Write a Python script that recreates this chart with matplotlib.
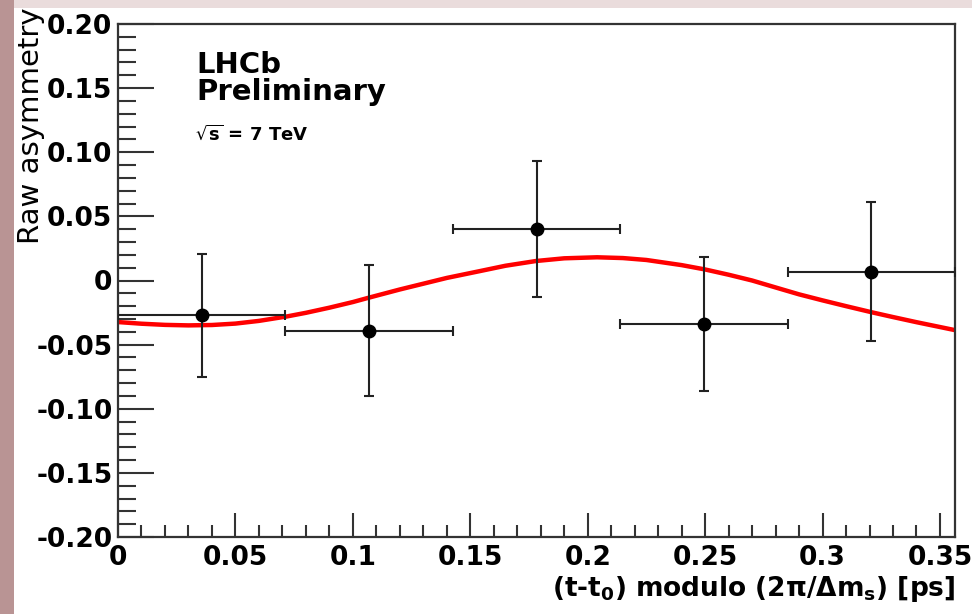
import matplotlib
matplotlib.use("Agg")
import matplotlib.pyplot as plt
from matplotlib.patches import Rectangle
from matplotlib.ticker import FixedLocator, MultipleLocator

# ---- data ----
bin_centers = [0.0356, 0.1069, 0.1782, 0.2495, 0.3208]
bin_halfwidth = [0.0356, 0.0356, 0.0356, 0.0356, 0.0356]
asym = [-0.027, -0.039, 0.040, -0.034, 0.007]
asym_err = [0.048, 0.051, 0.053, 0.052, 0.054]

fit_x = [0.0, 0.01, 0.02, 0.03, 0.04, 0.05, 0.06, 0.072, 0.08, 0.09, 0.10, 0.107,
         0.12, 0.13, 0.14, 0.154, 0.165, 0.178, 0.19, 0.204, 0.215, 0.225, 0.24,
         0.25, 0.26, 0.27, 0.282, 0.29, 0.30, 0.31, 0.321, 0.33, 0.34, 0.3564]
fit_y = [-0.0324, -0.0337, -0.0346, -0.0350, -0.0347, -0.0336, -0.0315, -0.0280,
         -0.0252, -0.0212, -0.0168, -0.0133, -0.0070, -0.0025, 0.0020, 0.0073,
         0.0115, 0.0152, 0.0173, 0.0181, 0.0175, 0.0160, 0.0120, 0.0086, 0.0045,
         0.0000, -0.0065, -0.0108, -0.0155, -0.0200, -0.0248, -0.0285, -0.0325,
         -0.0387]

xticks = [0, 0.05, 0.1, 0.15, 0.2, 0.25, 0.3, 0.35]
xtick_labels = ["0", "0.05", "0.1", "0.15", "0.2", "0.25", "0.3", "0.35"]
yticks = [-0.20, -0.15, -0.10, -0.05, 0, 0.05, 0.10, 0.15, 0.20]
ytick_labels = ["-0.20", "-0.15", "-0.10", "-0.05", "0", "0.05", "0.10", "0.15", "0.20"]

plt.rcParams['font.family'] = ['DejaVu Sans']
plt.rcParams['mathtext.fontset'] = 'dejavusans'

fig = plt.figure(figsize=(9.72, 6.14), dpi=100, facecolor='white')

# background strips (slide frame)
fig.patches.append(Rectangle((0, 0), 14/972, 1, transform=fig.transFigure,
                             facecolor='#b99494', edgecolor='none', zorder=-10))
fig.patches.append(Rectangle((14/972, 1 - 8/614), 1, 8/614, transform=fig.transFigure,
                             facecolor='#eadcdc', edgecolor='none', zorder=-10))

ax = fig.add_axes([118/972, (614-537)/614, (955-118)/972, (537-24)/614])
ax.set_xlim(0, 0.3564)
ax.set_ylim(-0.20, 0.20)

ax.plot(fit_x, fit_y, color='#ff0000', lw=3.2, zorder=2, solid_joinstyle='round')
ax.errorbar(bin_centers, asym, xerr=bin_halfwidth, yerr=asym_err, fmt='o',
            color='black', ecolor='#222222', elinewidth=1.5, capsize=3.5, capthick=1.5,
            markersize=9, zorder=3)

ax.xaxis.set_major_locator(FixedLocator(xticks))
ax.set_xticklabels(xtick_labels)
ax.xaxis.set_minor_locator(MultipleLocator(0.01))
ax.yaxis.set_major_locator(FixedLocator(yticks))
ax.set_yticklabels(ytick_labels)
ax.yaxis.set_minor_locator(MultipleLocator(0.01))

ax.tick_params(axis='both', which='both', direction='in', top=False, right=False,
               color='#333333', width=1.5)
ax.tick_params(axis='y', which='major', length=26, pad=4)
ax.tick_params(axis='y', which='minor', length=13)
ax.tick_params(axis='x', which='major', length=17, pad=6)
ax.tick_params(axis='x', which='minor', length=9)
for lab in ax.get_xticklabels() + ax.get_yticklabels():
    lab.set_fontsize(19)
    lab.set_fontweight('bold')

for sp in ax.spines.values():
    sp.set_linewidth(1.6)
    sp.set_color('#333333')

ax.set_ylabel('Raw asymmetry', fontsize=21, loc='top')
ax.yaxis.set_label_coords(-0.087, 1.032)
ax.set_xlabel(r'(t-t$_{\mathbf{0}}$) modulo (2$\mathbf{\pi}$/$\mathbf{\Delta}$m$_{\mathbf{s}}$) [ps]',
              fontsize=19, fontweight='bold', loc='right')
ax.xaxis.set_label_coords(1.0, -0.072)

ax.text(0.094, 0.9045, 'LHCb', transform=ax.transAxes, fontsize=21, fontweight='bold',
        va='baseline', ha='left')
ax.text(0.094, 0.852, 'Preliminary', transform=ax.transAxes, fontsize=21, fontweight='bold',
        va='baseline', ha='left')
ax.text(0.092, 0.774, r'$\mathbf{\sqrt{s}}$ = 7 TeV', transform=ax.transAxes, fontsize=13,
        fontweight='bold', va='baseline', ha='left')

fig.savefig('out.png', dpi=100, facecolor=fig.get_facecolor())
